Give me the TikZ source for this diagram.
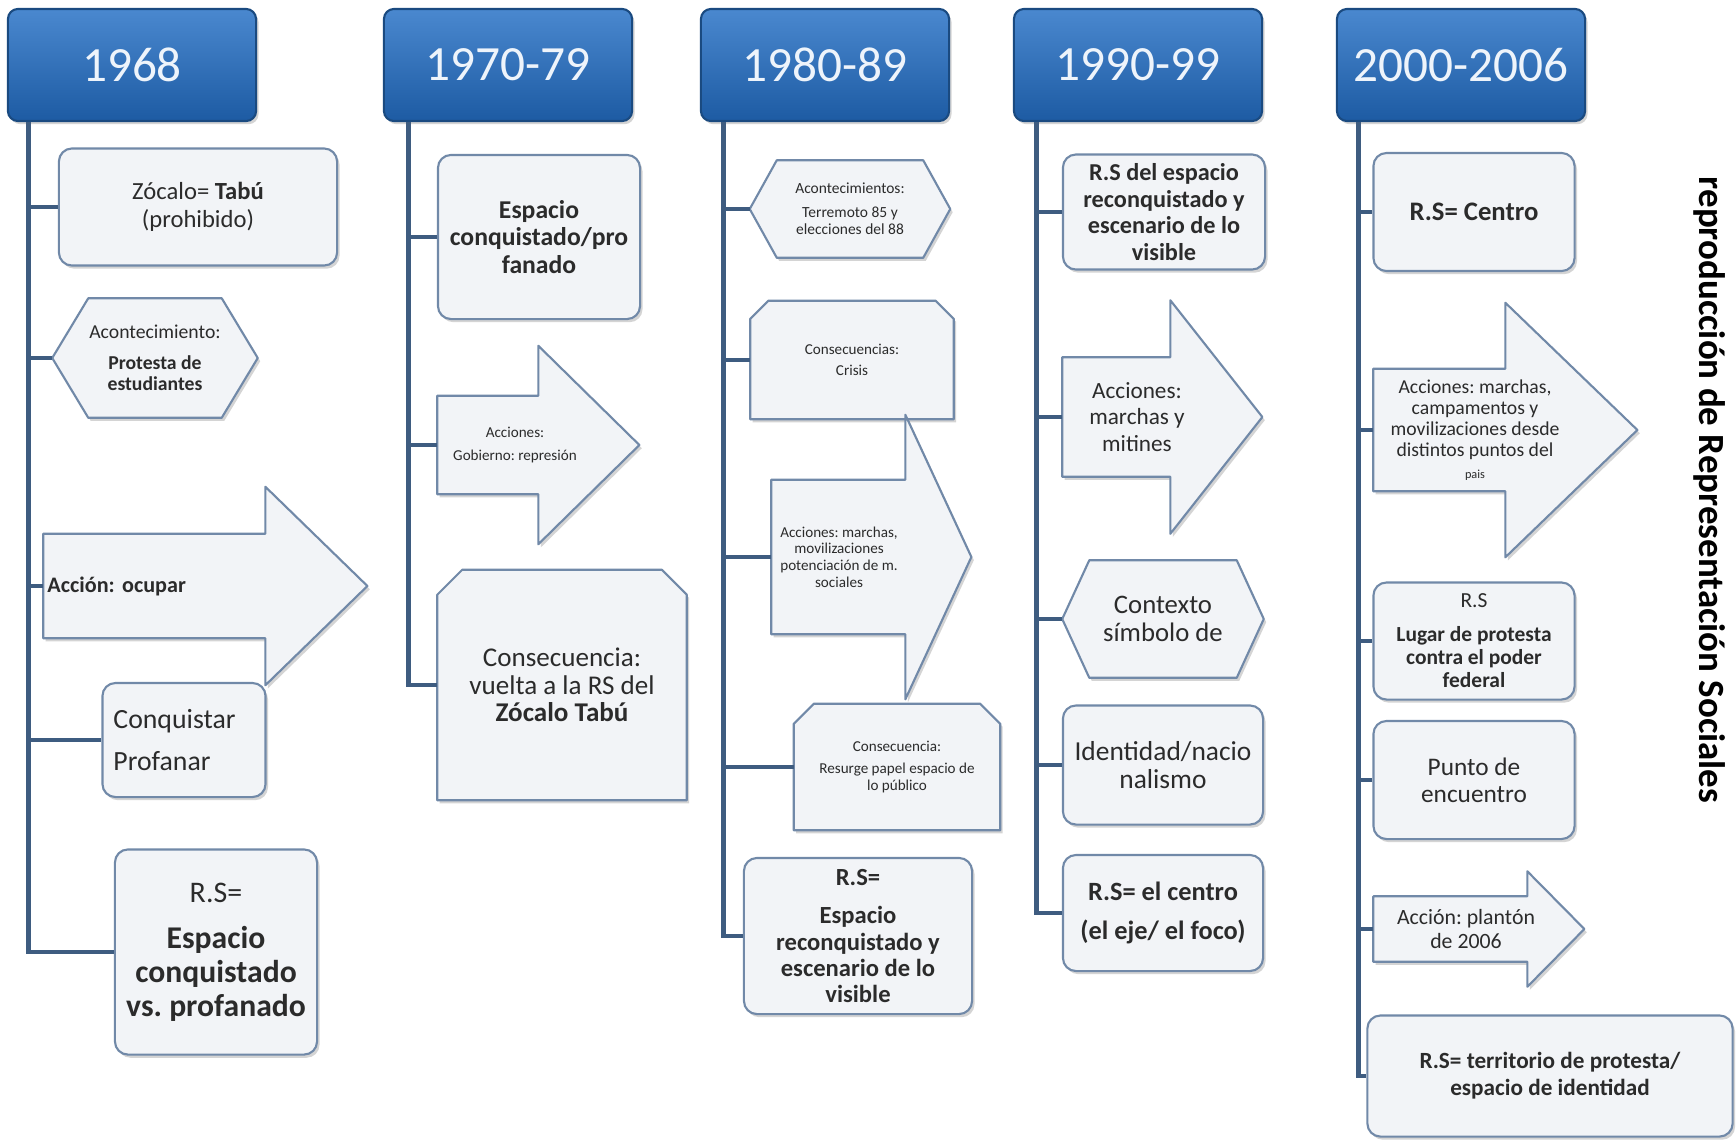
\documentclass[tikz,border=0pt]{standalone}
\usepackage{fontspec}
\setmainfont{Carlito}
\frenchspacing
\usetikzlibrary{shadows}
\definecolor{hdrTop}{HTML}{4A88CF}
\definecolor{hdrBot}{HTML}{1D5BA3}
\definecolor{hdrLine}{HTML}{1A4A80}
\definecolor{hdrText}{HTML}{EEF4FB}
\definecolor{spineBlue}{HTML}{3E5C80}
\definecolor{boxLine}{HTML}{7189A8}
\definecolor{boxFill}{HTML}{F2F4F7}
\definecolor{txtGray}{HTML}{2B2B2B}
\newcommand{\fsz}[2]{\fontsize{#1}{#2}\selectfont}
\pgfdeclarelayer{bg}
\pgfsetlayers{bg,main}
\tikzset{
  soft shadow/.style={drop shadow={shadow xshift=0.7pt,shadow yshift=-0.9pt,opacity=0.3,fill=black!55}},
  year/.style={rounded corners=0.1cm,draw=hdrLine,line width=0.6pt,top color=hdrTop,bottom color=hdrBot,text=hdrText,font=\fsz{14}{16},minimum width=2.48cm,minimum height=1.12cm,soft shadow},
  card/.style={rounded corners=0.13cm,draw=boxLine,line width=0.6pt,fill=boxFill,soft shadow,align=center,text=txtGray,inner sep=1pt},
  txt/.style={align=center,text=txtGray,inner sep=1pt},
  shapeline/.style={draw=boxLine,line width=0.6pt,fill=boxFill,soft shadow,line join=round},
  spine/.style={draw=spineBlue,line width=1.4pt}
}
% outlines drawn round a named node
\newcommand{\hexshape}[2]{\draw[shapeline] (#1.west) -- ([xshift=#2]#1.north west) -- ([xshift=-#2]#1.north east) -- (#1.east) -- ([xshift=-#2]#1.south east) -- ([xshift=#2]#1.south west) -- cycle;}
\newcommand{\snipshape}[2]{\draw[shapeline] (#1.south west) -- ([yshift=-#2]#1.north west) -- ([xshift=#2]#1.north west) -- ([xshift=-#2]#1.north east) -- ([yshift=-#2]#1.north east) -- (#1.south east) -- cycle;}
\newcommand{\arrowshape}[4]{\draw[shapeline] (#1.north west) -- ([xshift=#2]#1.north west) -- ([xshift=#2,yshift=#3]#1.north west) -- ([xshift=#4]#1.west) -- ([xshift=#2,yshift=-#3]#1.south west) -- ([xshift=#2]#1.south west) -- (#1.south west) -- cycle;}

\begin{document}
\begin{tikzpicture}[x=0.01cm,y=-0.01cm]
\useasboundingbox (0,0) rectangle (1736,1141);

% 1968
\node[year] (y68) at (132,65) {1968};
\node[card,minimum width=2.78cm,minimum height=1.17cm,font=\fsz{7}{8}] (zoc) at (198,207) {Zócalo= \textbf{Tabú}\\(prohibido)};
\node[txt,minimum width=2.04cm,minimum height=1.18cm,font=\fsz{5.6}{6.2}] (acon68) at (155,358) {Acontecimiento:\\[2.5pt]\textbf{Protesta de}\\\textbf{estudiantes}};
\node[txt,align=left,text width=2.15cm,minimum height=1.03cm,font=\bfseries\fsz{6.3}{7}] (ocupar) at (155,586) {Acción: ocupar};
\node[card,align=left,text width=1.41cm,inner xsep=0.11cm,minimum height=1.14cm,font=\fsz{7.9}{11.7}] (conq) at (184,740) {Conquistar\\Profanar};
\node[card,minimum width=2.02cm,minimum height=2.05cm,font=\fsz{9}{9.6}] (rs68) at (216,952) {{\fsz{8.5}{9}R.S=}\\[3.5pt]\textbf{Espacio}\\\textbf{conquistado}\\\textbf{vs. profanado}};

% 1970-79
\node[year] (y70) at (508,65) {1970-79};
\node[card,minimum width=2.02cm,minimum height=1.64cm,font=\bfseries\fsz{7.3}{7.8}] (esp70) at (539,237) {Espacio\\conquistado/pro\\fanado};
\node[txt,minimum width=1.54cm,minimum height=0.97cm,font=\fsz{4.3}{6.3}] (acc70) at (515,445) {Acciones:\\Gobierno: represión};
\node[txt,minimum width=2.48cm,minimum height=2.29cm,font=\fsz{7.7}{7.8}] (cons70) at (562,685) {Consecuencia:\\vuelta a la RS del\\\textbf{Zócalo Tabú}};

% 1980-89
\node[year] (y80) at (825,65) {1980-89};
\node[txt,minimum width=1.99cm,minimum height=0.96cm,font=\fsz{4.4}{4.9}] (acon80) at (850,209) {Acontecimientos:\\[1.8pt]Terremoto 85 y\\elecciones del 88};
\node[txt,minimum width=2.02cm,minimum height=1.17cm,font=\fsz{4.3}{6}] (cons80) at (852,360) {Consecuencias:\\Crisis};
\node[txt,minimum width=1.34cm,minimum height=1.53cm,font=\fsz{4.3}{4.7}] (acc80) at (839,557) {Acciones: marchas,\\movilizaciones\\potenciación de m.\\sociales};
\node[txt,minimum width=2.05cm,minimum height=1.25cm,font=\fsz{4.3}{4.7}] (cons80b) at (897,767) {Consecuencia:\\[1.6pt]Resurge papel espacio de\\lo público};
\node[card,minimum width=2.28cm,minimum height=1.56cm,font=\bfseries\fsz{7}{7.5}] (rs80) at (858,936) {R.S=\\[3.5pt]Espacio\\reconquistado y\\escenario de lo\\visible};

% 1990-99
\node[year] (y90) at (1138,65) {1990-99};
\node[card,minimum width=2.02cm,minimum height=1.15cm,font=\bfseries\fsz{6.9}{7.6}] (rs90a) at (1164,212) {R.S del espacio\\reconquistado y\\escenario de lo\\visible};
\node[txt,minimum width=1.48cm,minimum height=1.18cm,font=\fsz{6.6}{7.6}] (acc90) at (1137,417) {Acciones:\\marchas y\\mitines};
\node[txt,minimum width=2cm,minimum height=1.16cm,font=\fsz{7.6}{7.9}] (ctx90) at (1163,619) {Contexto\\símbolo de};
\node[card,minimum width=2cm,minimum height=1.19cm,font=\fsz{7.8}{7.9}] (ident90) at (1163,765) {Identidad/nacio\\nalismo};
\node[card,minimum width=2cm,minimum height=1.16cm,font=\bfseries\fsz{7.5}{11}] (rs90b) at (1163,913) {R.S= el centro\\(el eje/ el foco)};

% 2000-2006
\node[year] (y00) at (1461,65) {2000-2006};
\node[card,minimum width=2.01cm,minimum height=1.18cm,font=\bfseries\fsz{7.6}{8}] (rs00a) at (1474,212) {R.S= Centro};
\node[txt,minimum width=2.02cm,minimum height=1.21cm,font=\fsz{5.6}{6}] (acc00) at (1475,430) {Acciones: marchas,\\campamentos y\\movilizaciones desde\\distintos puntos del\\{\fsz{3.5}{5}pais}};
\node[card,minimum width=2.01cm,minimum height=1.17cm,font=\fsz{6.1}{6.6}] (lugar00) at (1474,641) {R.S\\[2.9pt]\textbf{Lugar de protesta}\\\textbf{contra el poder}\\\textbf{federal}};
\node[card,minimum width=2.01cm,minimum height=1.18cm,font=\fsz{7.2}{7.6}] (punto00) at (1474,780) {Punto de\\encuentro};
\node[txt,minimum width=1.84cm,minimum height=0.64cm,font=\fsz{6.2}{7}] (planton00) at (1466,929) {Acción: plantón\\de 2006};
\node[card,minimum width=3.65cm,minimum height=1.21cm,font=\bfseries\fsz{6.6}{7.6}] (rs00b) at (1550,1076) {R.S= territorio de protesta/\\espacio de identidad};

\node[rotate=-90,font=\bfseries\fsz{10.5}{12},text=black] (tituloRS) at (1710,490) {reproducción de Representación Sociales};

\begin{pgfonlayer}{bg}
\fill[white] (0,0) rectangle (1736,1141);
\hexshape{acon68}{0.36cm}
\arrowshape{ocupar}{2.22cm}{0.47cm}{3.24cm}
\arrowshape{acc70}{1.01cm}{0.5cm}{2.02cm}
\snipshape{cons70}{0.25cm}
\hexshape{acon80}{0.27cm}
\snipshape{cons80}{0.18cm}
\arrowshape{acc80}{1.34cm}{0.65cm}{2cm}
\snipshape{cons80b}{0.2cm}
\arrowshape{acc90}{1.08cm}{0.57cm}{2cm}
\hexshape{ctx90}{0.27cm}
\arrowshape{acc00}{1.32cm}{0.66cm}{2.64cm}
\arrowshape{planton00}{1.54cm}{0.25cm}{2.11cm}
\end{pgfonlayer}

% spines and branches
\coordinate (s68) at ([xshift=0.22cm]y68.south west);
\draw[spine] (s68) |- (rs68.west);
\foreach \n in {zoc,acon68,ocupar,conq} \draw[spine] (s68 |- \n.west) -- (\n.west);
\coordinate (s70) at ([xshift=0.26cm]y70.south west);
\draw[spine] (s70) |- (cons70.west);
\foreach \n in {esp70,acc70} \draw[spine] (s70 |- \n.west) -- (\n.west);
\coordinate (s80) at ([xshift=0.24cm]y80.south west);
\draw[spine] (s80) |- (rs80.west);
\foreach \n in {acon80,cons80,acc80,cons80b} \draw[spine] (s80 |- \n.west) -- (\n.west);
\coordinate (s90) at ([xshift=0.24cm]y90.south west);
\draw[spine] (s90) |- (rs90b.west);
\foreach \n in {rs90a,acc90,ctx90,ident90} \draw[spine] (s90 |- \n.west) -- (\n.west);
\coordinate (s00) at ([xshift=0.23cm]y00.south west);
\draw[spine] (s00) |- (rs00b.west);
\foreach \n in {rs00a,acc00,lugar00,punto00,planton00} \draw[spine] (s00 |- \n.west) -- (\n.west);
\end{tikzpicture}
\end{document}
